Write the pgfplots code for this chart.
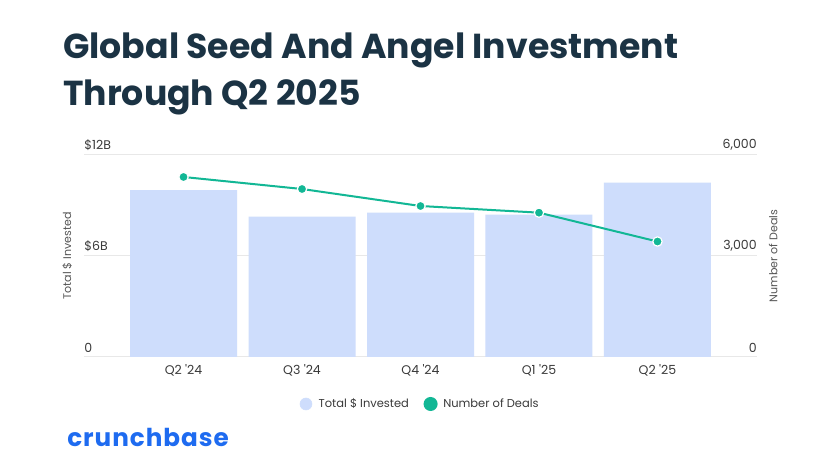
\documentclass[border=0pt]{standalone}
\usepackage{pgfplots}
\pgfplotsset{compat=1.18}
\usepackage{fontspec}
\setmainfont{Poppins}
\definecolor{barblue}{HTML}{CEDDFC}
\definecolor{teal2}{HTML}{12B795}
\definecolor{titlec}{HTML}{1B3344}
\definecolor{gridc}{HTML}{E8E8E8}
\definecolor{tickc}{HTML}{3A3A3A}
\definecolor{labc}{HTML}{555555}
\definecolor{cbblue}{HTML}{1E6BF0}
\begin{document}
\begin{tikzpicture}[x=0.75pt,y=0.75pt]
\fill[white] (0,0) rectangle (828,470);
\path[use as bounding box] (0,0) rectangle (828,470);
\node[anchor=base west, inner sep=0pt, font=\bfseries\fontsize{26}{30}\selectfont, text=titlec] at (63,411) {Global Seed And Angel Investment};
\node[anchor=base west, inner sep=0pt, font=\bfseries\fontsize{26}{30}\selectfont, text=titlec] at (63,364) {Through Q2 2025};
\node[anchor=base west, inner sep=0pt, font=\bfseries\fontsize{18.5}{22}\selectfont\addfontfeatures{LetterSpace=4}, text=cbblue] at (67,23) {crunchbase};

\begin{axis}[
  at={(63pt,84.75pt)}, anchor=south west, scale only axis,
  width=504.75pt, height=151.5pt,
  xmin=-0.84, xmax=4.84, ymin=0, ymax=12,
  axis line style={draw=none}, major tick length=0pt,
  xtick={0,1,2,3,4},
  xticklabels={Q2 \textquotesingle24, Q3 \textquotesingle24, Q4 \textquotesingle24, Q1 \textquotesingle25, Q2 \textquotesingle25},
  ytick={0,6,12}, yticklabels={0,\$6B,\$12B},
  ymajorgrids, grid style={gridc, line width=0.75pt},
  yticklabel style={anchor=south west, inner sep=0pt, yshift=3pt, font=\fontsize{9.4}{11}\selectfont, text=tickc},
  xticklabel style={anchor=north, inner sep=0pt, yshift=-5.5pt, font=\fontsize{9.4}{11}\selectfont, text=tickc},
  ylabel={Total \$ Invested},
  every axis y label/.style={at={(axis description cs:-0.025,0.5)}, rotate=90, anchor=center, font=\fontsize{8.3}{10}\selectfont, text=labc},
]
\addplot[ybar, bar width=80.25pt, fill=barblue, draw=none] coordinates {(0,9.92) (1,8.34) (2,8.57) (3,8.46) (4,10.36)};
\end{axis}

\begin{axis}[
  at={(63pt,84.75pt)}, anchor=south west, scale only axis,
  width=504.75pt, height=151.5pt,
  xmin=-0.84, xmax=4.84, ymin=0, ymax=6000,
  axis x line=none, axis y line*=right,
  axis line style={draw=none}, major tick length=0pt,
  ytick={0,3000,6000}, yticklabels={0,{3,000},{6,000}},
  yticklabel style={anchor=south east, inner sep=0pt, yshift=3pt, font=\fontsize{9.4}{11}\selectfont, text=tickc},
  ylabel={Number of Deals},
  every axis y label/.style={at={(axis description cs:1.024,0.5)}, rotate=90, anchor=center, font=\fontsize{8.3}{10}\selectfont, text=labc},
  legend columns=2,
  legend style={at={(axis description cs:0.5,-0.2327)}, anchor=center, draw=none, fill=none, font=\fontsize{8.6}{11}\selectfont, text=tickc, /tikz/every even column/.append style={column sep=9pt}},
]
\addlegendimage{legend image code/.code={\fill[barblue] (0pt,0pt) circle (4.5pt); \path[draw=none,fill=none] (4.5pt,0pt) rectangle (7.5pt,0.1pt);}}
\addlegendentry{Total \$ Invested}
\addplot[teal2, line width=1.5pt, mark=*, mark size=3.5pt, mark options={fill=teal2, draw=white, line width=0.9pt}, legend image code/.code={\fill[teal2] (0pt,0pt) circle (4.5pt); \path[draw=none,fill=none] (4.5pt,0pt) rectangle (7.5pt,0.1pt);}] coordinates {(0,5347) (1,4990) (2,4485) (3,4287) (4,3430)};
\addlegendentry{Number of Deals}
\end{axis}
\end{tikzpicture}
\end{document}
